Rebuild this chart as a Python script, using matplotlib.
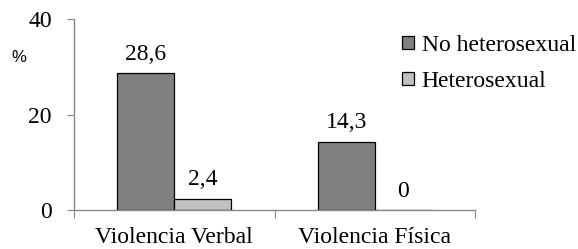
import matplotlib
matplotlib.use("Agg")
import matplotlib.pyplot as plt
import numpy as np
from matplotlib.patches import Patch

categories = ["Violencia Verbal", "Violencia Física"]
series_names = ["No heterosexual", "Heterosexual"]
no_hetero = [28.6, 14.3]
hetero = [2.4, 0.0]
labels_no = ["28,6", "14,3"]
labels_he = ["2,4", "0"]
yticks = [0, 20, 40]

plt.rcParams['font.family'] = ['Liberation Serif', 'DejaVu Serif']
FS = 17
fig = plt.figure(figsize=(5.78, 2.49), dpi=100)
ax = fig.add_axes([74/578, 1-210/249, (475-74)/578, (210-19)/249])

x = np.arange(len(categories))
w = 0.285
c1, c2 = "#808080", "#c0c0c0"
b1 = ax.bar(x - w/2, no_hetero, w, color=c1, edgecolor="black", linewidth=0.9)
b2 = ax.bar(x + w/2, hetero, w, color=c2, edgecolor="black", linewidth=0.9)
for rects, labs in ((b1, labels_no), (b2, labels_he)):
    for r, lab in zip(rects, labs):
        ax.annotate(lab, (r.get_x() + r.get_width()/2, r.get_height()),
                    xytext=(0, 6), textcoords="offset points",
                    ha="center", va="bottom", fontsize=FS)

ax.set_xlim(-0.5, 1.5)
ax.set_ylim(0, 40)
ax.set_yticks(yticks)
ax.set_yticklabels([str(t) for t in yticks], fontsize=FS)
ax.set_xticks([-0.5, 0.5, 1.5])
ax.set_xticklabels([])
ax.set_xticks(x, minor=True)
ax.set_xticklabels(categories, minor=True, fontsize=FS)
ax.tick_params(axis="x", which="minor", length=0, pad=12)
ax.tick_params(axis="x", which="major", length=6, direction="out", color="#888888")
ax.tick_params(axis="y", length=5, direction="out", color="#888888", pad=11)
for s in ("top", "right"):
    ax.spines[s].set_visible(False)
for s in ("left", "bottom"):
    ax.spines[s].set_color("#888888")
    ax.spines[s].set_linewidth(1)

fig.text(19/578, 1-58/249, "%", fontsize=12, family="Liberation Sans", ha="center", va="center")

handles = [Patch(facecolor=c1, edgecolor="black", linewidth=0.9),
           Patch(facecolor=c2, edgecolor="black", linewidth=0.9)]
fig.legend(handles, series_names, loc="upper left", bbox_to_anchor=(402/578, 1-35/249),
           frameon=False, fontsize=FS, handlelength=0.5, handleheight=0.5,
           handletextpad=0.33, labelspacing=0.62, borderpad=0, borderaxespad=0)

fig.savefig("out.png", dpi=100)
